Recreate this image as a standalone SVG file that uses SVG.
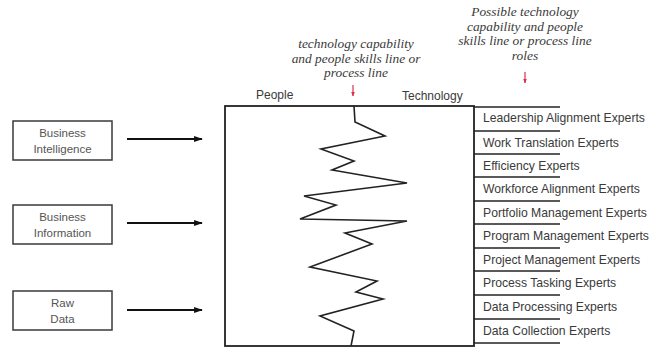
<svg xmlns="http://www.w3.org/2000/svg" width="649" height="349" viewBox="0 0 649 349">
  <style>
    .box { fill: #ffffff; stroke: #3a3a3a; stroke-width: 1.5; }
    .lbl { font-family: "Liberation Sans", Arial, sans-serif; font-size: 11.5px; fill: #555555; text-anchor: middle; }
    .role { font-family: "Liberation Sans", Arial, sans-serif; font-size: 12.2px; fill: #3a3a3a; }
    .note { font-family: "Liberation Serif", "Times New Roman", serif; font-style: italic; font-size: 13.4px; fill: #3a3a3a; text-anchor: middle; }
    .axis { font-family: "Liberation Sans", Arial, sans-serif; font-size: 12px; fill: #3a3a3a; }
    .arrow { stroke: #111111; stroke-width: 2.2; fill: none; marker-end: url(#head); }
    .tick { stroke: #222222; stroke-width: 1.3; }
    .red { stroke: #d8324f; stroke-width: 1.2; fill: none; marker-end: url(#redhead); }
  </style>
  <defs>
    <marker id="head" viewBox="0 0 10 10" refX="9" refY="5" markerWidth="4" markerHeight="4" orient="auto" markerUnits="strokeWidth">
      <path d="M0,1.5 L10,5 L0,8.5 z" fill="#111111"/>
    </marker>
    <marker id="redhead" viewBox="0 0 10 10" refX="9" refY="5" markerWidth="4" markerHeight="4" orient="auto" markerUnits="strokeWidth">
      <path d="M0,1 L10,5 L0,9 z" fill="#d8324f"/>
    </marker>
  </defs>
  <rect width="649" height="349" fill="#ffffff"/>

  <!-- annotations above the chart -->
  <g id="note-line">
    <text class="note" x="356" y="48">technology capability</text>
    <text class="note" x="356" y="63">and people skills line or</text>
    <text class="note" x="356" y="77">process line</text>
  </g>
  <g id="note-roles">
    <text class="note" x="525" y="16">Possible technology</text>
    <text class="note" x="525" y="31">capability and people</text>
    <text class="note" x="525" y="45">skills line or process line</text>
    <text class="note" x="525" y="60">roles</text>
  </g>
  <text class="axis" x="256" y="99">People</text>
  <text class="axis" x="402" y="100">Technology</text>

  <!-- input nodes -->
  <g id="business-intelligence">
    <rect class="box" x="13" y="121" width="99" height="39"/>
    <text class="lbl" x="62.5" y="137">Business</text>
    <text class="lbl" x="62.5" y="153">Intelligence</text>
  </g>
  <g id="business-information">
    <rect class="box" x="13" y="205" width="99" height="39"/>
    <text class="lbl" x="62.5" y="221">Business</text>
    <text class="lbl" x="62.5" y="237">Information</text>
  </g>
  <g id="raw-data">
    <rect class="box" x="13" y="291" width="99" height="39"/>
    <text class="lbl" x="62.5" y="307">Raw</text>
    <text class="lbl" x="62.5" y="323">Data</text>
  </g>

  <!-- central people/technology chart -->
  <g id="chart">
    <rect x="225" y="106" width="249" height="240" fill="#ffffff" stroke="#222222" stroke-width="1.8"/>
    <polyline fill="none" stroke="#222222" stroke-width="1.6" stroke-linejoin="miter"
      points="354,106 355,122 385,136 321,149 354,161 332,170 407,183 304,196 336,205 300,219 407,221 345,233 372,244 310,267 377,281 356,292 383,299 320,316 354,331 351,346"/>
  </g>

  <!-- role rows -->
  <g id="roles">
    <line class="tick" x1="474" y1="107" x2="560" y2="107"/>
    <line class="tick" x1="474" y1="131" x2="560" y2="131"/>
    <line class="tick" x1="474" y1="154" x2="560" y2="154"/>
    <line class="tick" x1="474" y1="177" x2="560" y2="177"/>
    <line class="tick" x1="474" y1="201" x2="560" y2="201"/>
    <line class="tick" x1="474" y1="224" x2="560" y2="224"/>
    <line class="tick" x1="474" y1="248" x2="560" y2="248"/>
    <line class="tick" x1="474" y1="271" x2="560" y2="271"/>
    <line class="tick" x1="474" y1="295" x2="560" y2="295"/>
    <line class="tick" x1="474" y1="319" x2="560" y2="319"/>
    <line class="tick" x1="474" y1="343" x2="560" y2="343"/>
    <text class="role" x="483" y="122">Leadership Alignment Experts</text>
    <text class="role" x="483" y="147">Work Translation Experts</text>
    <text class="role" x="483" y="170">Efficiency Experts</text>
    <text class="role" x="483" y="193">Workforce Alignment Experts</text>
    <text class="role" x="483" y="217">Portfolio Management Experts</text>
    <text class="role" x="483" y="240">Program Management Experts</text>
    <text class="role" x="483" y="264">Project Management Experts</text>
    <text class="role" x="483" y="287">Process Tasking Experts</text>
    <text class="role" x="483" y="311">Data Processing Experts</text>
    <text class="role" x="483" y="335">Data Collection Experts</text>
  </g>

  <!-- connectors -->
  <g id="connectors">
    <line class="arrow" x1="127" y1="139" x2="202" y2="139"/>
    <line class="arrow" x1="127" y1="223" x2="202" y2="223"/>
    <line class="arrow" x1="127" y1="310" x2="202" y2="310"/>
    <line class="red" x1="353" y1="85" x2="353" y2="96"/>
    <line class="red" x1="525" y1="72" x2="525" y2="83"/>
  </g>
</svg>
